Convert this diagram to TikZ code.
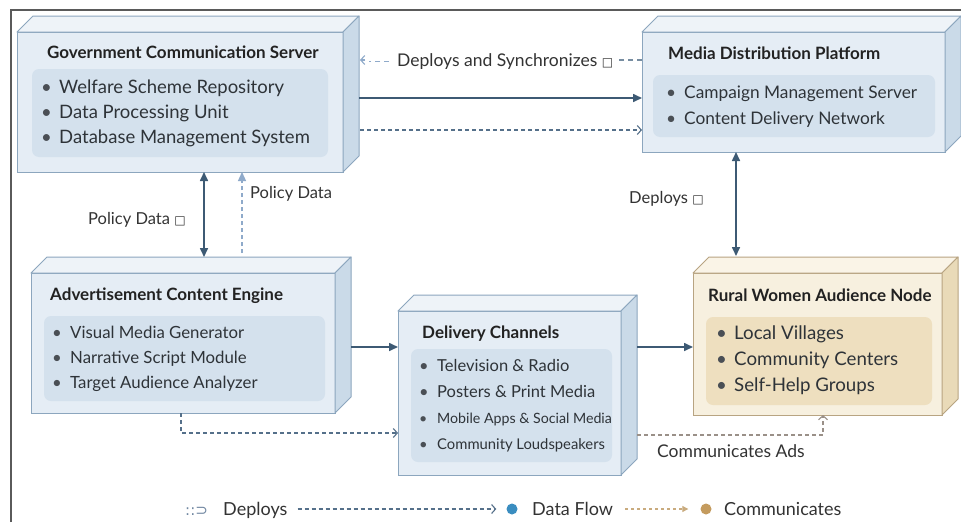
\documentclass[tikz,border=0pt]{standalone}
\usepackage{fontspec}
\setmainfont{Lato}
\newfontfamily\symf{DejaVu Sans}
\usetikzlibrary{arrows.meta,calc}
\definecolor{framec}{HTML}{5A5A5A}
\definecolor{bluefront}{HTML}{E5EDF5}
\definecolor{bluetop}{HTML}{EEF3F8}
\definecolor{blueside}{HTML}{CADAE8}
\definecolor{bluebd}{HTML}{8CA6BE}
\definecolor{bluepanel}{HTML}{D4E1ED}
\definecolor{tanfront}{HTML}{F7F0DF}
\definecolor{tantop}{HTML}{FAF4E7}
\definecolor{tanside}{HTML}{E9DAB8}
\definecolor{tanbd}{HTML}{B8A482}
\definecolor{tanpanel}{HTML}{EEDFBF}
\definecolor{titlec}{HTML}{222222}
\definecolor{itemc}{HTML}{2E3338}
\definecolor{bulc}{HTML}{4A4F55}
\definecolor{labelc}{HTML}{333333}
\definecolor{arrc}{HTML}{3D5A74}
\definecolor{dashc}{HTML}{55708A}
\definecolor{lightdash}{HTML}{8FAACA}
\definecolor{commc}{HTML}{9A9088}
\definecolor{tanline}{HTML}{C9AB7E}
\definecolor{dotblue}{HTML}{3A8DC0}
\definecolor{dottan}{HTML}{C49B5E}
\newcommand\bul{\makebox[18pt][l]{\textcolor{bulc}{\textbullet}}}
\newcommand\sq{{\symf\fontsize{12}{12}\selectfont □}}
\newcommand\cubefaces[4]{%
  \draw[draw=#4, fill=#2, line width=1pt, line join=round] (#1.north west) -- ++(16,-16) -- ([xshift=16pt,yshift=16pt]#1.north east) -- (#1.north east) -- cycle;
  \draw[draw=#4, fill=#3, line width=1pt, line join=round] (#1.north east) -- ++(16,-16) -- ([xshift=16pt,yshift=16pt]#1.south east) -- (#1.south east) -- cycle;
}
\begin{document}
\begin{tikzpicture}[x=1pt,y=-1pt,
  front/.style={draw=bluebd, fill=bluefront, line width=1pt, inner sep=0pt, outer sep=0pt},
  tfront/.style={draw=tanbd, fill=tanfront, line width=1pt, inner sep=0pt, outer sep=0pt},
  panel/.style={fill=bluepanel, rounded corners=7pt, inner sep=0pt, outer sep=0pt},
  tpanel/.style={fill=tanpanel, rounded corners=7pt, inner sep=0pt, outer sep=0pt},
  ttl/.style={font=\bfseries\fontsize{17}{19}\selectfont, text=titlec, inner sep=0pt, anchor=base west},
  itm/.style={text=itemc, inner sep=0pt, anchor=base west, font=\fontsize{#1}{#1}\selectfont},
  lbl/.style={font=\fontsize{16.5}{18}\selectfont, text=labelc, inner sep=0pt, anchor=base west},
  lgd/.style={font=\fontsize{18}{20}\selectfont, text=labelc, inner sep=0pt, anchor=base west},
  solidarr/.style={draw=arrc, line width=1.6pt, -{Triangle[length=9pt,width=8pt]}},
  dblarr/.style={draw=arrc, line width=1.6pt, {Triangle[length=9pt,width=8pt]}-{Triangle[length=9pt,width=8pt]}},
  dasharr/.style={draw=dashc, line width=1.1pt, dash pattern=on 4pt off 3pt, -{Straight Barb[length=4pt,width=9pt]}},
]
\useasboundingbox (0,0) rectangle (961,522);
\fill[white] (0,0) rectangle (961,522);
\draw[framec, line width=1.3pt] (11,522) -- (11,10) -- (961,10);

% Government Communication Server
\node[front, minimum width=326pt, minimum height=140pt] (gcs) at (180,102) {};
\cubefaces{gcs}{bluetop}{blueside}{bluebd}
\node[panel, minimum width=296pt, minimum height=88pt] (gcsp) at (180,113) {};
\node[ttl] (gcst) at (47,58) {Government Communication Server};
\node[itm=18.5] (gcs1) at (41,93) {\bul Welfare Scheme Repository};
\node[itm=18.5] (gcs2) at (41,118) {\bul Data Processing Unit};
\node[itm=18.5] (gcs3) at (41,143) {\bul Database Management System};

% Media Distribution Platform
\node[front, minimum width=303pt, minimum height=120pt] (mdp) at (793.5,92) {};
\cubefaces{mdp}{bluetop}{blueside}{bluebd}
\node[panel, minimum width=282pt, minimum height=62pt] (mdpp) at (794,106) {};
\node[ttl] (mdpt) at (668,59) {Media Distribution Platform};
\node[itm=17.3] (mdp1) at (666,98) {\bul Campaign Management Server};
\node[itm=17.3] (mdp2) at (666,124) {\bul Content Delivery Network};

% Advertisement Content Engine
\node[front, minimum width=304pt, minimum height=140pt] (ace) at (183,343) {};
\cubefaces{ace}{bluetop}{blueside}{bluebd}
\node[panel, minimum width=281pt, minimum height=85pt] (acep) at (184.5,358.5) {};
\node[ttl] (acet) at (50,300) {Advertisement Content Engine};
\node[itm=16.8] (ace1) at (52,338) {\bul Visual Media Generator};
\node[itm=16.8] (ace2) at (52,363) {\bul Narrative Script Module};
\node[itm=16.8] (ace3) at (52,388) {\bul Target Audience Analyzer};

% Delivery Channels
\node[front, minimum width=223pt, minimum height=164pt] (dc) at (509.5,393) {};
\cubefaces{dc}{bluetop}{blueside}{bluebd}
\node[panel, minimum width=201pt, minimum height=113pt] (dcp) at (511.5,405.5) {};
\node[ttl] (dct) at (422,338) {Delivery Channels};
\node[itm=16.5] (dc1) at (419,371) {\bul Television \& Radio};
\node[itm=16.5] (dc2) at (419,397) {\bul Posters \& Print Media};
\node[itm=14.2] (dc3) at (419,423) {\bul Mobile Apps \& Social Media};
\node[itm=14.8] (dc4) at (419,449) {\bul Community Loudspeakers};

% Rural Women Audience Node
\node[tfront, minimum width=249pt, minimum height=142pt] (rwa) at (817.5,344) {};
\cubefaces{rwa}{tantop}{tanside}{tanbd}
\node[tpanel, minimum width=226pt, minimum height=88pt] (rwap) at (819,361) {};
\node[ttl] (rwat) at (708,301) {Rural Women Audience Node};
\node[itm=18.7] (rwa1) at (716,339) {\bul Local Villages};
\node[itm=18.7] (rwa2) at (716,365) {\bul Community Centers};
\node[itm=18.7] (rwa3) at (716,391) {\bul Self-Help Groups};

% labels
\node[lbl, font=\fontsize{17.5}{19}\selectfont] (dsl) at (397,66) {Deploys and Synchronizes \sq};
\node[lbl] (pd1) at (88,224) {Policy Data \sq};
\node[lbl] (pd2) at (250,198) {Policy Data};
\node[lbl] (dpl) at (629,203) {Deploys \sq};
\node[lbl, font=\fontsize{17.5}{19}\selectfont] (cal) at (657,457) {Communicates Ads};

% connectors
\draw[draw=dashc!80, line width=1.1pt, dash pattern=on 5pt off 4pt] ([yshift=32pt]mdp.west) -- ([xshift=6pt]dsl.east |- 0,60);
\draw[draw=lightdash, line width=0.8pt, double=white, double distance=1.4pt, dash pattern=on 5pt off 4pt] ([xshift=-8pt]dsl.west |- 0,60) -- ([xshift=26pt,yshift=42pt]gcs.east);
\draw[draw=lightdash, line width=1.1pt, -{Straight Barb[length=4pt,width=9pt]}] ([xshift=22pt,yshift=42pt]gcs.east) -- ([xshift=17pt,yshift=42pt]gcs.east);
\draw[solidarr] ([xshift=16pt,yshift=4pt]gcs.east) -- ([yshift=-6pt]mdp.west);
\draw[dasharr] ([xshift=17pt,yshift=-28pt]gcs.east) -- ([yshift=-38pt]mdp.west);

\draw[dblarr] ([xshift=24pt]gcs.south) -- ([xshift=21pt,yshift=16pt]ace.north);
\draw[draw=lightdash, line width=1.3pt, dash pattern=on 4pt off 3pt, -{Triangle[length=9pt,width=8pt]}] ([xshift=59pt,yshift=20pt]ace.north) -- ([xshift=62pt]gcs.south);
\draw[dblarr] ([xshift=-57.5pt]mdp.south) -- ([xshift=-81.5pt,yshift=17pt]rwa.north);

\draw[solidarr] ([xshift=16pt,yshift=-4pt]ace.east) -- ([yshift=46pt]dc.west);
\draw[solidarr] ([xshift=16pt,yshift=46pt]dc.east) -- ([yshift=-3pt]rwa.west);
\draw[dasharr] ([xshift=-2pt]ace.south) |- ([yshift=-40pt]dc.west);
\draw[draw=commc, line width=1.1pt, dash pattern=on 4pt off 3pt, -{Straight Barb[length=4pt,width=9pt]}] ([xshift=16pt,yshift=-42pt]dc.east) -| ([xshift=5.5pt]rwa.south);

% legend
\node[lgd, text=lightdash!80!black] (lgsym) at (185,515) {{\symf\fontsize{15}{16}\selectfont ::⊃}};
\node[lgd] (lgdep) at (223,515) {Deploys};
\node[circle, fill=dotblue, minimum size=11pt, inner sep=0pt] (lgdot1) at (512,509) {};
\node[lgd] (lgdf) at (532,515) {Data Flow};
\node[circle, fill=dottan, minimum size=11pt, inner sep=0pt] (lgdot2) at (706,509) {};
\node[lgd] (lgcm) at (724,515) {Communicates};
\draw[draw=dashc, line width=1.1pt, dash pattern=on 4pt off 3pt, -{Straight Barb[length=4pt,width=9pt]}] ([xshift=10pt]lgdep.east |- lgdot1) -- ([xshift=-10pt]lgdot1.west);
\draw[draw=tanline, line width=1.1pt, dash pattern=on 3pt off 3pt, -{Triangle[length=6pt,width=6pt]}] ([xshift=12pt]lgdf.east |- lgdot2) -- ([xshift=-12pt]lgdot2.west);
\end{tikzpicture}
\end{document}
